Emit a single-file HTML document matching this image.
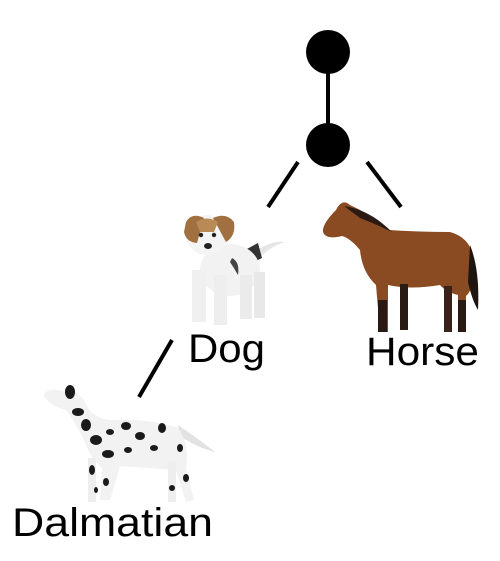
<!DOCTYPE html>
<html><head><meta charset="utf-8"><style>
html,body{margin:0;padding:0;background:#fff;}
svg{display:block;}
text{font-family:"Liberation Sans",sans-serif;fill:#000;}
</style></head><body>
<svg width="500" height="561" viewBox="0 0 500 561">
<g stroke="#000" stroke-width="4" stroke-linecap="butt">
<line x1="328" y1="72" x2="328" y2="124"/>
<line x1="298" y1="162" x2="268" y2="207"/>
<line x1="367" y1="162" x2="401" y2="207"/>
<line x1="172" y1="340" x2="139" y2="397"/>
</g>
<circle cx="328" cy="52" r="22" fill="#000"/>
<circle cx="328" cy="145" r="22" fill="#000"/>

<g>
<path d="M250,256 Q268,240 285,242 Q270,246 255,262 Z" fill="#e6e6e6"/>
<path d="M245,250 L258,243 L262,258 L250,264 Z" fill="#333"/>
<ellipse cx="230" cy="270" rx="30" ry="26" fill="#f2f2f2"/>
<rect x="192" y="270" width="14" height="52" fill="#f0f0f0"/>
<rect x="214" y="275" width="13" height="50" fill="#eee"/>
<rect x="240" y="275" width="12" height="44" fill="#ebebeb"/>
<rect x="254" y="272" width="11" height="46" fill="#e8e8e8"/>
<ellipse cx="207" cy="235" rx="21" ry="20" fill="#f4f4f4"/>
<path d="M186,222 Q192,212 204,218 L197,243 Q186,242 184,232 Z" fill="#a07040"/>
<path d="M213,218 Q226,212 234,222 Q236,236 226,242 Z" fill="#a07040"/>
<path d="M196,222 Q207,215 218,222 L214,232 L200,232 Z" fill="#b88a55"/>
<circle cx="201" cy="235" r="2.2" fill="#222"/><circle cx="214" cy="235" r="2.2" fill="#222"/>
<ellipse cx="208" cy="246" rx="4" ry="3" fill="#222"/>
<path d="M232,258 Q240,262 238,275 Q234,268 230,262 Z" fill="#444"/>
</g>

<g>
<path d="M336,210 Q342,198 350,205 Q372,215 388,230 Q420,232 450,232 Q472,238 474,262 Q474,290 466,296 L465,330 L458,330 L458,295 Q446,292 440,285 Q410,290 388,285 L388,332 L380,332 L376,285 Q362,272 360,250 Q350,238 342,236 Q326,240 323,232 Q322,224 336,210 Z" fill="#8a4a22"/>
<path d="M344,206 Q370,210 392,232 Q380,226 360,218 Z" fill="#2a1a12"/>
<path d="M470,245 Q480,270 478,310 Q472,300 468,282 Z" fill="#1e1410"/>
<rect x="400" y="284" width="8" height="46" fill="#2a1a14"/>
<rect x="444" y="286" width="8" height="46" fill="#3a2218"/>
<rect x="378" y="300" width="9" height="32" fill="#2a1a14"/>
<rect x="458" y="300" width="8" height="32" fill="#2a1a14"/>
</g>

<g>
<path d="M178,425 Q200,440 215,452 Q198,448 180,436 Z" fill="#e2e2e2"/>
<path d="M66,392 Q78,388 86,404 Q92,418 110,420 Q150,418 178,428 Q190,445 186,468 L194,500 L186,502 L176,470 Q150,468 120,466 L110,500 L100,500 L102,468 Q90,458 84,440 Q74,420 66,410 Q50,406 44,396 Q46,386 66,392 Z" fill="#f2f2f2"/>
<rect x="88" y="458" width="8" height="44" fill="#eee"/>
<rect x="168" y="462" width="8" height="40" fill="#eee"/>
<g fill="#1a1a1a">
<ellipse cx="70" cy="392" rx="5" ry="7"/><ellipse cx="78" cy="412" rx="6" ry="4"/><ellipse cx="86" cy="425" rx="5" ry="6"/>
<ellipse cx="96" cy="440" rx="6" ry="5"/><ellipse cx="110" cy="432" rx="4" ry="3"/><ellipse cx="126" cy="426" rx="5" ry="4"/>
<ellipse cx="140" cy="436" rx="5" ry="4"/><ellipse cx="162" cy="428" rx="4" ry="5"/><ellipse cx="154" cy="448" rx="4" ry="3"/>
<ellipse cx="108" cy="454" rx="6" ry="4"/><ellipse cx="128" cy="450" rx="4" ry="3"/><ellipse cx="180" cy="448" rx="3" ry="4"/>
<ellipse cx="92" cy="470" rx="3" ry="5"/><ellipse cx="106" cy="482" rx="3" ry="4"/><ellipse cx="186" cy="478" rx="3" ry="4"/>
<ellipse cx="172" cy="488" rx="3" ry="3"/><ellipse cx="96" cy="490" rx="2" ry="3"/>
</g>
</g>

<text x="188" y="362" font-size="40" textLength="77" lengthAdjust="spacingAndGlyphs">Dog</text>
<text x="366" y="365" font-size="40" textLength="113" lengthAdjust="spacingAndGlyphs">Horse</text>
<text x="12" y="536" font-size="40" textLength="201" lengthAdjust="spacingAndGlyphs">Dalmatian</text>
</svg>
</body></html>
